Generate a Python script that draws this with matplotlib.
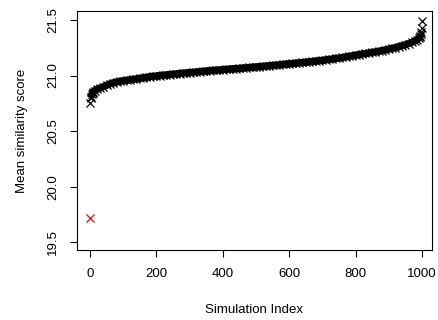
import numpy as np
import matplotlib
matplotlib.use("Agg")
import matplotlib.pyplot as plt

plt.rcParams['font.family'] = ['Liberation Sans', 'DejaVu Sans']

# sorted mean similarity scores of the simulations
sim_index = [1, 2, 3, 5, 8, 10, 15, 20, 30, 40, 50, 60, 70, 80, 90, 100,
             110, 120, 130, 140, 150, 160, 170, 180, 190, 200,
             210, 220, 230, 240, 250, 260, 270, 280, 290, 300,
             310, 320, 330, 340, 350, 360, 370, 380, 390, 400,
             410, 420, 430, 440, 450, 460, 470, 480, 490, 500,
             510, 520, 530, 540, 550, 560, 570, 580, 590, 600,
             610, 620, 630, 640, 650, 660, 670, 680, 690, 700,
             710, 720, 730, 740, 750, 760, 770, 780, 790, 800,
             810, 820, 830, 840, 850, 860, 870, 880, 890, 900,
             910, 920, 930, 940, 950, 960, 970, 980, 985, 990,
             993, 995, 997, 998, 999, 1000]
sim_score = [20.75, 20.80, 20.81, 20.83, 20.845, 20.855, 20.865, 20.875, 20.886, 20.90,
             20.912, 20.925, 20.935, 20.942, 20.948, 20.953,
             20.957, 20.962, 20.966, 20.970, 20.975, 20.980, 20.985, 20.989, 20.993, 20.996,
             21.000, 21.003, 21.006, 21.009, 21.012, 21.015, 21.018, 21.021, 21.024, 21.027,
             21.029, 21.032, 21.035, 21.038, 21.041, 21.043, 21.046, 21.048, 21.050, 21.053,
             21.055, 21.058, 21.060, 21.062, 21.065, 21.067, 21.070, 21.072, 21.075, 21.077,
             21.080, 21.082, 21.085, 21.088, 21.090, 21.093, 21.096, 21.099, 21.102, 21.105,
             21.108, 21.111, 21.114, 21.117, 21.120, 21.123, 21.127, 21.130, 21.134, 21.137,
             21.141, 21.145, 21.149, 21.153, 21.157, 21.162, 21.167, 21.172, 21.178, 21.183,
             21.188, 21.193, 21.198, 21.203, 21.208, 21.213, 21.218, 21.224, 21.230, 21.237,
             21.244, 21.251, 21.259, 21.268, 21.277, 21.287, 21.298, 21.312, 21.322, 21.335,
             21.345, 21.355, 21.37, 21.39, 21.43, 21.49]

# observed score
obs_index = [1]
obs_score = [19.72]

xticks = [0, 200, 400, 600, 800, 1000]
yticks = [19.5, 20.0, 20.5, 21.0, 21.5]

fig = plt.figure(figsize=(4.38, 3.2), dpi=100)
ax = fig.add_axes([0.176, 0.219, 0.81, 0.747])

x = np.array(sim_index)
y = np.array(sim_score)
band = (x >= 2) & (x <= 997)
ax.plot(x[band], y[band], color='black', lw=5.2, solid_capstyle='butt')
ax.plot(x, y, 'x', color='black', ms=5.2, mew=0.9)
ax.plot(obs_index, obs_score, 'x', color='red', ms=5.2, mew=0.9)

ax.set_xlim(-39, 1030)
ax.set_ylim(19.432, 21.581)
ax.set_xticks(xticks)
ax.set_xticklabels([str(t) for t in xticks])
ax.set_yticks(yticks)
ax.set_yticklabels(['%.1f' % t for t in yticks], rotation=90, va='center')
ax.tick_params(axis='both', direction='out', length=5, width=0.8, labelsize=9.5)
ax.tick_params(axis='x', pad=8)
ax.tick_params(axis='y', pad=8)
for s in ax.spines.values():
    s.set_linewidth(0.8)

ax.set_xlabel('Simulation Index', fontsize=9.5, labelpad=17)
ax.set_ylabel('Mean similarity score', fontsize=9.5, labelpad=14)

fig.savefig('out.png', dpi=100)
